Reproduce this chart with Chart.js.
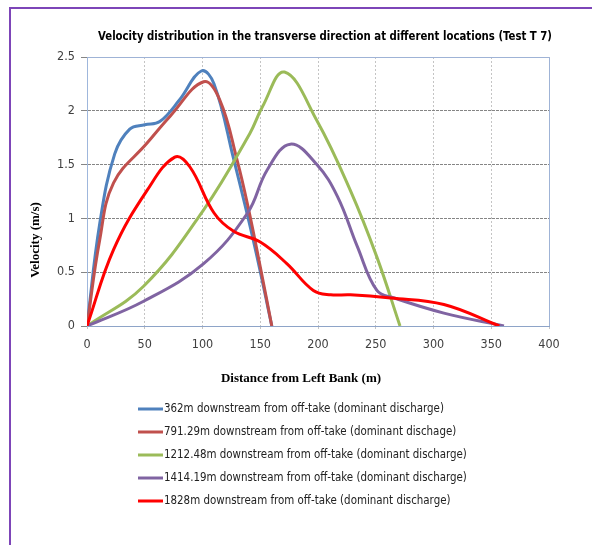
<!DOCTYPE html>
<html>
<head>
<meta charset="utf-8">
<script src="https://cdn.jsdelivr.net/npm/chart.js@4/dist/chart.umd.min.js"></script>
<style>
  html, body { margin: 0; padding: 0; background: #fff; }
  #wrap { width: 592px; height: 545px; position: relative; }
</style>
</head>
<body>
<div id="wrap"><canvas id="c" width="592" height="545"></canvas></div>
<script>
const chartTitle = "Velocity distribution in the transverse direction at different locations (Test T 7)";
const xTitle = "Distance from Left Bank (m)";
const yTitle = "Velocity (m/s)";

const labels = [
  "362m downstream from off-take (dominant discharge)",
  "791.29m downstream from off-take (dominant dischage)",
  "1212.48m downstream from off-take (dominant discharge)",
  "1414.19m downstream from off-take (dominant discharge)",
  "1828m downstream from off-take (dominant discharge)"
];
const colors = ["#4f81bd", "#c0504d", "#9bbb59", "#8064a2", "#ff0000"];

// distance (m) / velocity (m/s) for each location
const dist362 = [0, 11, 24, 37, 50, 63, 80, 99, 110, 127, 145, 160];
const vel362  = [0, 0.95, 1.6, 1.83, 1.87, 1.9, 2.1, 2.37, 2.25, 1.55, 0.75, 0];

const dist791 = [0, 11, 23, 52, 72, 101, 115, 130, 140, 150, 160];
const vel791  = [0, 0.8, 1.33, 1.7, 1.95, 2.27, 2.1, 1.54, 1.08, 0.55, 0];

const dist1212 = [0, 49, 101, 141, 152, 171, 199, 228, 251, 271];
const vel1212  = [0, 0.37, 1.08, 1.79, 2.04, 2.36, 1.91, 1.26, 0.64, 0];

const dist1414 = [0, 49, 101, 139, 156, 176, 199, 217, 234, 251, 266, 309, 361];
const vel1414  = [0, 0.23, 0.58, 1.05, 1.45, 1.69, 1.5, 1.2, 0.74, 0.33, 0.26, 0.12, 0];

const dist1828 = [0, 23, 52, 76, 89, 110, 127, 150, 173, 196, 211, 228, 263, 309, 357];
const vel1828  = [0, 0.71, 1.26, 1.57, 1.48, 1.05, 0.88, 0.78, 0.58, 0.33, 0.29, 0.29, 0.26, 0.2, 0];

const xTicks = [0, 50, 100, 150, 200, 250, 300, 350, 400];
const yTicks = [0, 0.5, 1, 1.5, 2, 2.5];

const series = [
  [dist362, vel362], [dist791, vel791], [dist1212, vel1212],
  [dist1414, vel1414], [dist1828, vel1828]
];

const narrow = "'Liberation Sans Narrow', 'DejaVu Sans Condensed', sans-serif";
const serif = "'Liberation Serif', 'DejaVu Serif', serif";

const datasets = series.map(([xs, ys], i) => ({
  label: labels[i],
  data: xs.map((x, k) => ({ x: x, y: ys[k] })),
  borderColor: colors[i],
  backgroundColor: colors[i],
  borderWidth: 3,
  pointRadius: 0,
  tension: 0.4,
  fill: false,
  order: 4 - i
}));

const decor = {
  id: "decor",
  beforeDatasetsDraw(chart) {
    const ctx = chart.ctx, a = chart.chartArea;
    ctx.save();
    ctx.strokeStyle = "#9fb3d6";
    ctx.lineWidth = 1;
    ctx.beginPath();
    ctx.moveTo(a.left, a.top + 0.5);
    ctx.lineTo(a.right + 0.5, a.top + 0.5);
    ctx.lineTo(a.right + 0.5, a.bottom);
    ctx.stroke();
    ctx.restore();
  },
  afterDraw(chart) {
    const ctx = chart.ctx;
    ctx.save();
    // outer frame
    ctx.strokeStyle = "#7d45b8";
    ctx.lineWidth = 2;
    ctx.strokeRect(10, 8, 700, 700);

    ctx.fillStyle = "#000";
    ctx.textAlign = "center";
    ctx.textBaseline = "middle";
    ctx.font = "bold 13px " + narrow;
    ctx.fillText(chartTitle, 325, 37, 454);

    ctx.font = "bold 13px " + serif;
    ctx.fillText(xTitle, 301, 379);
    ctx.save();
    ctx.translate(36, 240);
    ctx.rotate(-Math.PI / 2);
    ctx.fillText(yTitle, 0, 0);
    ctx.restore();

    // legend
    ctx.textAlign = "left";
    ctx.font = "12px " + narrow;
    chart.data.datasets.forEach((ds, i) => {
      const y = 409 + i * 23;
      ctx.strokeStyle = ds.borderColor;
      ctx.lineWidth = 3;
      ctx.beginPath();
      ctx.moveTo(138, y);
      ctx.lineTo(163, y);
      ctx.stroke();
      ctx.fillStyle = "#222";
      const w = ctx.measureText(ds.label).width;
      ctx.fillText(ds.label, 164, y, w * 0.952);
    });
    ctx.restore();
  }
};

new Chart(document.getElementById("c").getContext("2d"), {
  type: "line",
  data: { datasets: datasets },
  options: {
    responsive: false,
    animation: false,
    layout: { padding: { top: 57, right: 43, left: 0, bottom: 189 } },
    scales: {
      x: {
        type: "linear",
        min: 0, max: 400,
        afterFit: s => { s.height = 30; },
        afterBuildTicks: s => { s.ticks = xTicks.map(v => ({ value: v })); },
        grid: { color: "#c4c4c4", tickLength: 5, drawTicks: true, tickBorderDash: [2, 2] },
        border: { color: "#8ea4c8", width: 1, dash: [2, 2] },
        ticks: { color: "#404040", font: { family: narrow, size: 12.5 }, padding: 6,
                 callback: v => String(v) }
      },
      y: {
        min: 0, max: 2.5,
        afterFit: s => { s.width = 87; },
        afterBuildTicks: s => { s.ticks = yTicks.map(v => ({ value: v })); },
        grid: { color: "#858585", tickLength: 6 },
        border: { color: "#9fb7dc", width: 1, dash: [3, 1] },
        ticks: { color: "#404040", font: { family: narrow, size: 12.5 }, padding: 6,
                 callback: v => String(v) }
      }
    },
    plugins: {
      legend: { display: false },
      tooltip: { enabled: false }
    }
  },
  plugins: [decor]
});
</script>
</body>
</html>
